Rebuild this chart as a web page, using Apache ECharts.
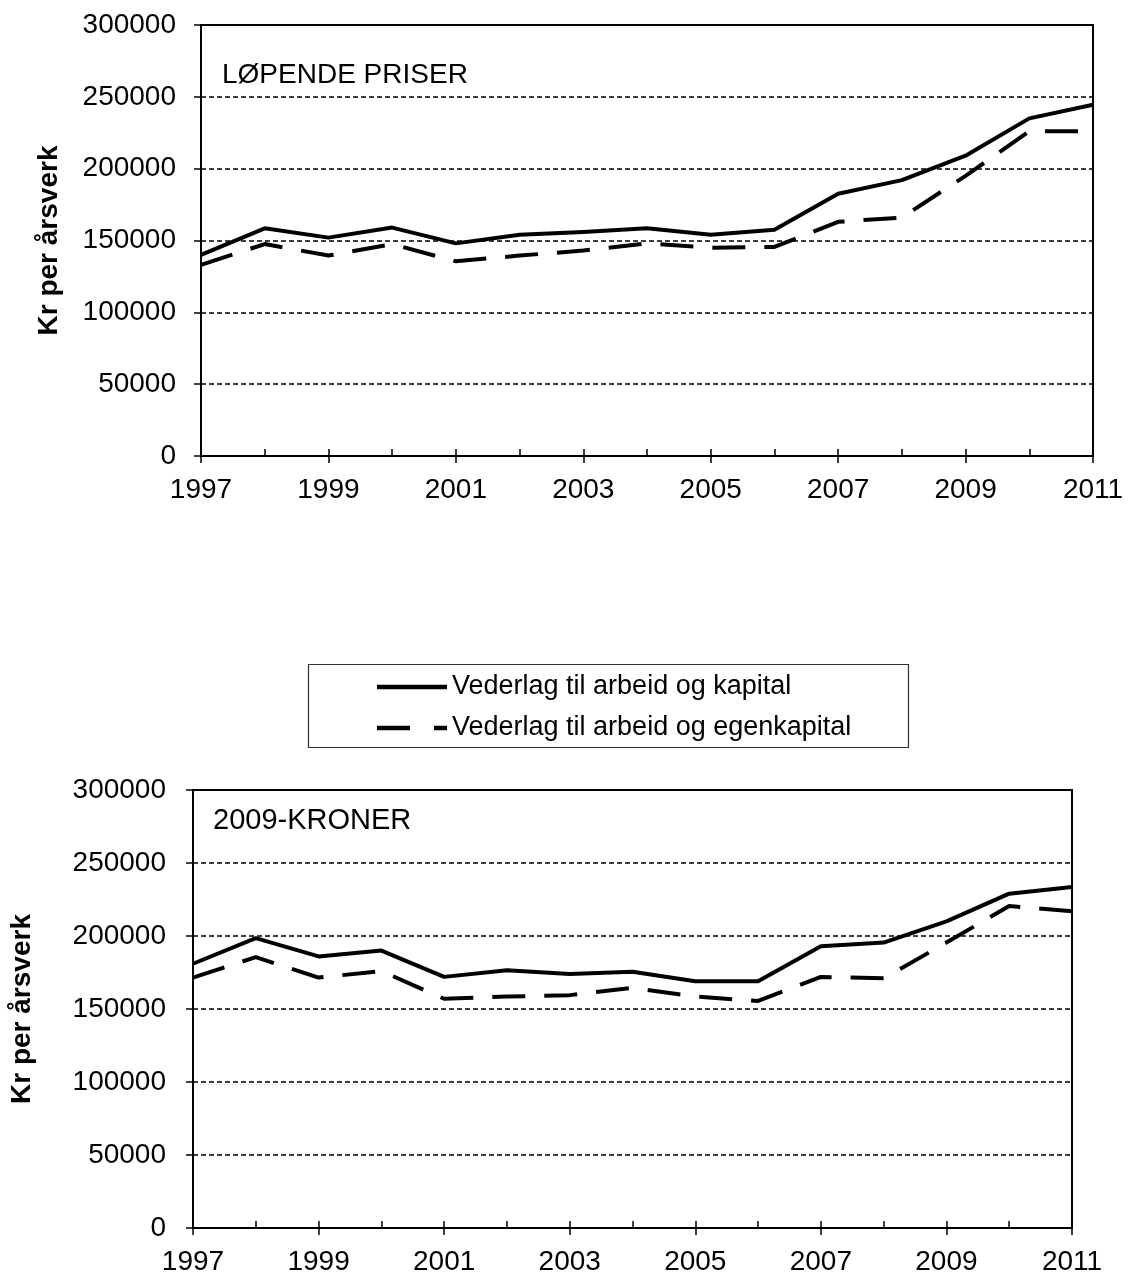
<!DOCTYPE html>
<html>
<head>
<meta charset="utf-8">
<script src="https://cdn.jsdelivr.net/npm/echarts@6/dist/echarts.min.js"></script>
<style>
  html, body { margin: 0; padding: 0; background: #fff; }
  #chart { width: 1129px; height: 1278px; }
</style>
</head>
<body>
<div id="chart"></div>
<script>
// Years on the x axis
const years = ['1997','1998','1999','2000','2001','2002','2003','2004','2005','2006','2007','2008','2009','2010','2011'];

// Løpende priser (kr per årsverk)
const lopKapital = [140000,158500,152000,159000,148000,154000,156000,158500,154000,157500,182500,192000,209000,235000,244500];
const lopEgenkapital = [133000,147500,139500,147500,135500,139500,143000,148000,145000,145500,163000,166000,195000,226000,226000];

// 2009-kroner (kr per årsverk)
const kr09Kapital = [181000,198500,186000,190000,172000,176500,174000,175500,169000,169000,193000,195500,210000,229000,233500];
const kr09Egenkapital = [171500,185500,171500,176000,157000,158500,159500,164500,158500,155500,172000,171000,195500,220500,217000];

const seriesNames = ['Vederlag til arbeid og kapital', 'Vederlag til arbeid og egenkapital'];
const panelTitles = ['LØPENDE PRISER', '2009-KRONER'];
const yName = 'Kr per årsverk';

const FONT = "'Liberation Sans', Arial, sans-serif";
const solidStyle = { color: '#000', width: 4, type: 'solid', join: 'round' };
const dashStyle = { color: '#000', width: 4, type: [33, 19], cap: 'butt', join: 'round' };

// Legend key shapes: a solid bar and a long-dash/short-dash bar
const solidIcon = 'path://M0,0H70V4.5H0Z';
const dashIcon = 'path://M0,0H33V4.5H0Z M57,0H70V4.5H57Z';

const grids = [
  { left: 201, top: 25, width: 892, height: 431 },
  { left: 193, top: 790, width: 879, height: 438 }
];

function mainX(gi) {
  return {
    type: 'category', gridIndex: gi, data: years, boundaryGap: false,
    axisLine: { show: true, lineStyle: { color: '#000', width: 2 } },
    axisTick: { show: true, interval: 1, length: 7, lineStyle: { color: '#000', width: 1.5 } },
    axisLabel: { interval: 1, margin: 20, color: '#000', fontSize: 28, fontFamily: FONT },
    splitLine: { show: false }
  };
}
function minorX(gi) {
  return {
    type: 'category', gridIndex: gi, data: years, boundaryGap: false, position: 'bottom',
    axisLine: { show: false },
    axisTick: { show: true, inside: true, interval: 0, length: 7, lineStyle: { color: '#000', width: 1.5 } },
    axisLabel: { show: false },
    splitLine: { show: false }
  };
}
function yAx(gi, gap, margin) {
  return {
    type: 'value', gridIndex: gi, min: 0, max: 300000, interval: 50000,
    name: yName, nameLocation: 'middle', nameGap: gap,
    nameTextStyle: { color: '#000', fontSize: 28, fontWeight: 'bold', fontFamily: FONT },
    axisLine: { show: true, lineStyle: { color: '#000', width: 2 } },
    axisTick: { show: true, length: 7, lineStyle: { color: '#000', width: 1.5 } },
    axisLabel: { margin: margin, color: '#000', fontSize: 28, fontFamily: FONT, formatter: v => String(v) },
    splitLine: { show: true, lineStyle: { color: '#000', width: 1.5, type: [5, 3] } }
  };
}
function line(name, data, xi, yi, style) {
  return {
    type: 'line', name: name, data: data, xAxisIndex: xi, yAxisIndex: yi,
    symbol: 'none', showSymbol: false, lineStyle: style, itemStyle: { color: '#000' },
    silent: true, animation: false, z: 5
  };
}

const chart = echarts.init(document.getElementById('chart'), null, { renderer: 'canvas' });
chart.setOption({
  backgroundColor: '#fff',
  animation: false,
  grid: grids.map(g => Object.assign({ show: true, borderColor: '#000', borderWidth: 2, backgroundColor: 'transparent' }, g)),
  xAxis: [mainX(0), minorX(0), mainX(1), minorX(1)],
  yAxis: [yAx(0, 138, 25), yAx(1, 157, 27)],
  legend: {
    orient: 'vertical', left: 372, top: 667, itemWidth: 70, itemHeight: 4.5, itemGap: 11,
    padding: 5,
    data: [
      { name: seriesNames[0], icon: solidIcon },
      { name: seriesNames[1], icon: dashIcon }
    ],
    itemStyle: { color: '#000', borderWidth: 0 },
    lineStyle: { width: 0 },
    textStyle: { color: '#000', fontSize: 27, fontFamily: FONT, lineHeight: 30 }
  },
  graphic: [
    { type: 'rect', shape: { x: 308.5, y: 664.5, width: 600, height: 83 },
      style: { fill: 'none', stroke: '#333', lineWidth: 1.2 }, z: 1 },
    { type: 'text', left: 222, top: 61, style: { text: panelTitles[0], fill: '#000', font: '28px ' + FONT }, z: 10 },
    { type: 'text', left: 213, top: 806, style: { text: panelTitles[1], fill: '#000', font: '29px ' + FONT }, z: 10 }
  ],
  series: [
    line(seriesNames[0], lopKapital, 0, 0, solidStyle),
    line(seriesNames[1], lopEgenkapital, 0, 0, dashStyle),
    line(seriesNames[0], kr09Kapital, 2, 1, solidStyle),
    line(seriesNames[1], kr09Egenkapital, 2, 1, dashStyle)
  ]
});
</script>
</body>
</html>
